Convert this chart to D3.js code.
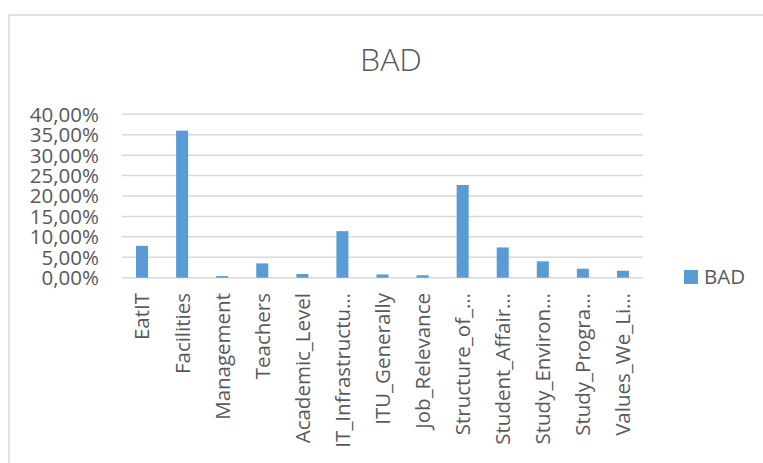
<!DOCTYPE html>
<html>
<head>
<meta charset="utf-8">
<script src="https://cdn.jsdelivr.net/npm/d3@7"></script>
<style>
  html, body { margin: 0; padding: 0; background: #fff; }
  svg { display: block; font-family: "Open Sans", sans-serif; }
</style>
</head>
<body>
<svg id="chart" width="763" height="463"></svg>
<script>
// Category labels as shown on the axis (Excel truncates the long ones)
const categories = [
  'EatIT', 'Facilities', 'Management', 'Teachers', 'Academic_Level',
  'IT_Infrastructu…', 'ITU_Generally', 'Job_Relevance', 'Structure_of_…',
  'Student_Affair…', 'Study_Environ…', 'Study_Progra…', 'Values_We_Li…'
];
const badValues = [
  0.078, 0.360, 0.004, 0.035, 0.009,
  0.114, 0.008, 0.006, 0.227,
  0.074, 0.040, 0.022, 0.017
];
const yTicks = [0, 0.05, 0.10, 0.15, 0.20, 0.25, 0.30, 0.35, 0.40];
const seriesName = 'BAD';

const svg = d3.select('#chart');
const textColor = '#595959';
const gridColor = '#d9d9d9';
const barColor = '#5b9bd5';

// Chart frame (runs off the right and bottom of the view)
svg.append('path')
  .attr('d', 'M9,470 L9,15 L770,15')
  .attr('fill', 'none')
  .attr('stroke', gridColor)
  .attr('stroke-width', 1.5);

// Title
svg.append('text')
  .attr('x', 391)
  .attr('y', 71)
  .attr('text-anchor', 'middle')
  .attr('font-size', 32)
  .attr('font-weight', 300)
  .attr('fill', textColor)
  .text(seriesName);

const plot = { left: 122, right: 643, top: 114.3, bottom: 277.7 };

const x = d3.scaleBand()
  .domain(categories)
  .range([plot.left, plot.right])
  .padding(0);

const y = d3.scaleLinear()
  .domain([0, 0.4])
  .range([plot.bottom, plot.top]);

const locale = d3.formatLocale({ decimal: ',', thousands: '.', grouping: [3], currency: ['', '€'] });
const pct = locale.format('.2%');

// Gridlines
svg.append('g')
  .selectAll('line')
  .data(yTicks)
  .join('line')
  .attr('x1', plot.left)
  .attr('x2', plot.right)
  .attr('y1', d => y(d))
  .attr('y2', d => y(d))
  .attr('stroke', gridColor)
  .attr('stroke-width', 1.5);

// Y axis labels
svg.append('g')
  .selectAll('text')
  .data(yTicks)
  .join('text')
  .attr('x', 99)
  .attr('y', d => y(d))
  .attr('dy', '0.36em')
  .attr('text-anchor', 'end')
  .attr('font-size', 20.5)
  .attr('fill', textColor)
  .text(d => pct(d));

// Bars
const barW = x.bandwidth() * 0.3;
svg.append('g')
  .selectAll('rect')
  .data(categories.map((c, i) => ({ c, v: badValues[i] })))
  .join('rect')
  .attr('x', d => x(d.c) + (x.bandwidth() - barW) / 2)
  .attr('y', d => y(d.v))
  .attr('width', barW)
  .attr('height', d => y(0) - y(d.v))
  .attr('fill', barColor);

// Category labels, rotated
svg.append('g')
  .selectAll('text')
  .data(categories)
  .join('text')
  .attr('transform', d => `translate(${x(d) + x.bandwidth() / 2},293) rotate(-90)`)
  .attr('dy', '0.36em')
  .attr('text-anchor', 'end')
  .attr('font-size', 20.5)
  .attr('fill', textColor)
  .text(d => d);

// Legend
const legend = svg.append('g').attr('transform', 'translate(684,270)');
legend.append('rect')
  .attr('width', 14)
  .attr('height', 14)
  .attr('fill', barColor);
legend.append('text')
  .attr('x', 20)
  .attr('y', 7)
  .attr('dy', '0.36em')
  .attr('font-size', 20.5)
  .attr('fill', textColor)
  .text(seriesName);
</script>
</body>
</html>
